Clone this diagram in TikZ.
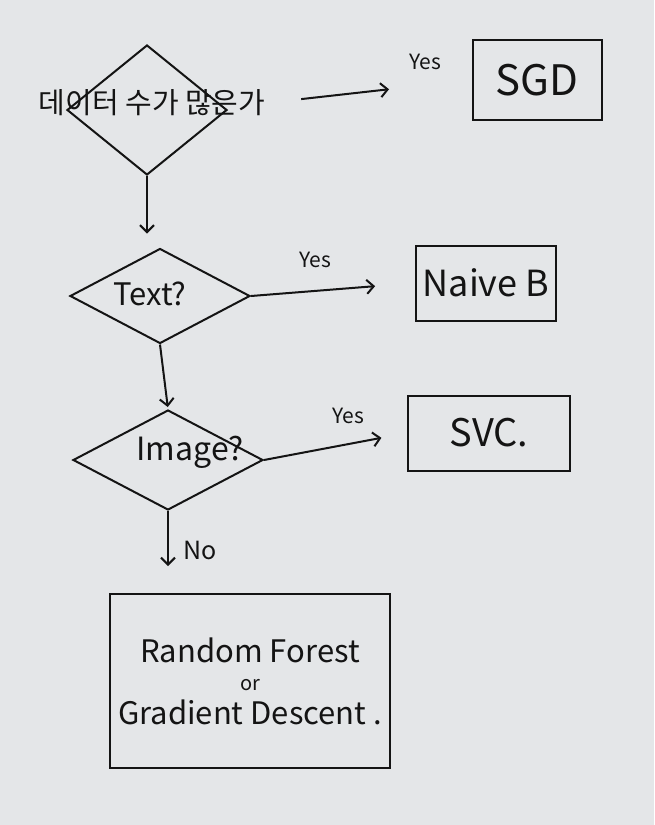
\documentclass[tikz,border=0pt]{standalone}
\usepackage{fontspec}
\setmainfont{Noto Sans CJK KR}
\usetikzlibrary{shapes.geometric,arrows.meta}
\definecolor{board}{HTML}{E4E6E8}
\definecolor{ink}{HTML}{141414}
\tikzset{
  ink/.style={draw=ink,line width=2pt},
  decision/.style={ink,shape=diamond,inner sep=0pt,text=ink},
  outbox/.style={ink,rectangle,inner sep=0pt,text=ink},
  lbl/.style={text=ink,inner sep=1pt},
  flow/.style={ink,-{Straight Barb[length=7pt,width=14pt,line width=2pt]}},
}
\begin{document}
\begin{tikzpicture}[x=1pt,y=-1pt]
\fill[board] (0,0) rectangle (654,825);
\useasboundingbox (0,0) rectangle (654,825);

% decisions
\node[decision,minimum width=160pt,minimum height=130pt] (d1) at (147,110) {};
\node[lbl,font=\fontsize{29}{32}\selectfont] (t1) at (152,103) {데이터 수가 많은가};
\node[decision,minimum width=180pt,minimum height=95pt] (d2) at (160,296) {};
\node[lbl,font=\fontsize{31}{34}\selectfont] (t2) at (150,294) {Text?};
\node[decision,minimum width=190pt,minimum height=100pt] (d3) at (168,460) {};
\node[lbl,font=\fontsize{32}{36}\selectfont] (t3) at (190,452) {Image?};

% result boxes
\node[outbox,minimum width=129pt,minimum height=80pt,font=\fontsize{42}{46}\selectfont] (sgd) at (537,80) {SGD};
\node[outbox,minimum width=140pt,minimum height=75pt,font=\fontsize{36}{40}\selectfont] (nb) at (486,283) {Naive B};
\node[outbox,minimum width=162pt,minimum height=75pt,font=\fontsize{38}{42}\selectfont] (svc) at (489,433) {SVC.};
\node[outbox,minimum width=280pt,minimum height=174pt,align=center,font=\fontsize{31}{36}\selectfont] (rf) at (250,681)
  {Random Forest\\[-8pt]{\fontsize{20}{20}\selectfont or}\\[-2pt]Gradient Descent .};

% connectors
\draw[flow,shorten <=35pt,shorten >=83pt] (t1.east) -- (sgd.west);
\draw[flow,shorten >=40pt] (d2.east) -- (nb.west);
\draw[flow,shorten >=26pt] (d3.east) -- (svc.west);
\coordinate (d2top) at (d1.south |- d2.north);
\draw[flow,shorten >=14pt] (d1.south) -- (d2top);
\draw[flow,shorten >=2pt] (d2.south) -- (d3.north);
\coordinate (nostop) at (d3.south |- 0,566);
\draw[flow] (d3.south) -- (nostop);

% edge labels
\node[lbl,font=\fontsize{21}{24}\selectfont] (y1) at (425,62) {Yes};
\node[lbl,font=\fontsize{21}{24}\selectfont] (y2) at (315,260) {Yes};
\node[lbl,font=\fontsize{21}{24}\selectfont] (y3) at (348,416) {Yes};
\node[lbl,font=\fontsize{25}{28}\selectfont] (no) at (200,550) {No};
\end{tikzpicture}
\end{document}
